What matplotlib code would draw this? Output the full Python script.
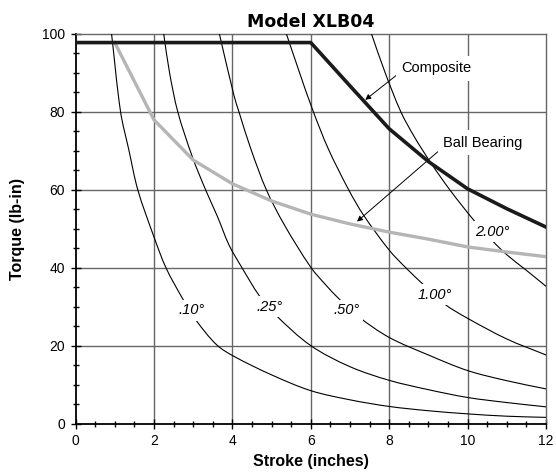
import numpy as np
import matplotlib.pyplot as plt
from matplotlib.path import Path
from matplotlib.patches import PathPatch

plt.rcParams['font.family'] = ['Liberation Sans', 'DejaVu Sans']

# composite and ball bearing torque limits
stroke = [0, 1, 2, 3, 4, 5, 6, 7, 8, 9, 10, 11, 12]
composite = [97.8, 97.8, 97.8, 97.8, 97.8, 97.8, 97.8, 86.7, 75.7, 67.3, 60.3, 55.2, 50.5]
bb_stroke = [1, 2, 3, 4, 5, 6, 7, 8, 9, 10, 11, 12]
ball_bearing = [97.8, 78, 67.7, 61.6, 57.2, 53.8, 51.3, 49.2, 47.4, 45.4, 44.1, 42.9]

# deflection curves
d10_x = [0.92, 1.15, 1.36, 1.59, 2.0, 2.31, 2.74, 3.06, 3.6, 4.05, 5.0, 6.0, 7.0, 8.0, 9.0, 10.0, 11.0, 12.0]
d10_y = [100, 80, 70.3, 60, 48, 40, 32, 26.8, 20.3, 17.3, 12.6, 8.55, 6.2, 4.5, 3.4, 2.6, 2.0, 1.7]
d25_x = [2.25, 2.4, 2.61, 2.98, 3.32, 3.62, 3.92, 4.25, 4.68, 5.1, 6.0, 7.0, 8.0, 9.0, 10.0, 11.0, 12.0]
d25_y = [100, 90, 80, 68.5, 60, 53.2, 45.8, 40, 33, 28, 20.1, 14.7, 11.2, 8.8, 6.8, 5.5, 4.4]
d50_x = [3.67, 4.04, 4.17, 4.48, 4.87, 5.33, 6.0, 6.37, 6.71, 7.22, 8.0, 9.0, 10.0, 11.0, 12.0]
d50_y = [100, 84.3, 80, 70.3, 60, 51, 40.2, 35.8, 32.2, 27.5, 22.2, 17.7, 13.7, 11.1, 9.0]
d100_x = [5.38, 5.7, 6.05, 6.45, 6.97, 7.35, 8.0, 8.41, 8.92, 9.42, 10.0, 11.0, 12.0]
d100_y = [100, 90.5, 80.5, 70.5, 60, 53.5, 44.6, 40.2, 35.3, 30.7, 27.1, 21.8, 17.7]
d200_x = [7.55, 7.9, 8.3, 8.65, 9.06, 9.55, 10.18, 10.65, 11.0, 11.5, 12.0]
d200_y = [100, 90, 80, 73.5, 67, 60, 52, 46.8, 43.4, 39.4, 35.3]

curves = [(d10_x, d10_y), (d25_x, d25_y), (d50_x, d50_y), (d100_x, d100_y), (d200_x, d200_y)]
curve_labels = ['.10°', '.25°', '.50°', '1.00°', '2.00°']
label_pos = [(2.95, 29.2), (4.94, 30.1), (6.92, 29.2), (9.17, 33.1), (10.62, 49.3)]


# smoothed line through the read points (like a spreadsheet "smooth line")
def smooth_path(xs, ys, sx=39.25, sy=3.9):
    P = np.column_stack([np.array(xs) * sx, np.array(ys) * sy])
    n = len(P)
    T = np.zeros_like(P)
    for i in range(n):
        d = P[min(i + 1, n - 1)] - P[max(i - 1, 0)]
        T[i] = d / np.hypot(d[0], d[1])
    verts = [P[0]]
    codes = [Path.MOVETO]
    for i in range(n - 1):
        L = np.hypot(*(P[i + 1] - P[i]))
        verts += [P[i] + T[i] * L / 3, P[i + 1] - T[i + 1] * L / 3, P[i + 1]]
        codes += [Path.CURVE4] * 3
    verts = np.array(verts) / [sx, sy]
    return Path(verts, codes)


fig = plt.figure(figsize=(5.56, 4.72), dpi=100)
ax = fig.add_axes([0.1358, 0.1017, 0.8462, 0.8263])

gcol = '#666666'
for xv in [2, 4, 6, 8, 10]:
    ax.axvline(xv, color=gcol, lw=1.0, zorder=1)
for yv in [20, 40, 60, 80]:
    ax.axhline(yv, color=gcol, lw=1.0, zorder=1)

for (cx, cy) in curves:
    ax.add_patch(PathPatch(smooth_path(cx, cy), facecolor='none', edgecolor='black',
                           lw=0.8, zorder=3))

ax.plot(bb_stroke, ball_bearing, color='#b5b5b5', lw=2.4, zorder=4)
ax.plot(stroke, composite, color='#1a1a1a', lw=2.6, zorder=5)

for lab, (lx, ly) in zip(curve_labels, label_pos):
    ax.text(lx, ly, lab, style='italic', fontsize=10.5, ha='center', va='center', zorder=6,
            bbox=dict(facecolor='white', edgecolor='none', pad=2.5))

ax.annotate('Composite', xy=(7.39, 83.1), xytext=(8.32, 91.2), fontsize=10.5,
            ha='left', va='center', zorder=2,
            bbox=dict(facecolor='white', edgecolor='none', pad=4),
            arrowprops=dict(arrowstyle='-|>', color='black', lw=0.7, mutation_scale=8,
                            shrinkA=0, shrinkB=0, relpos=(0, 0.3)))
ax.annotate('Ball Bearing', xy=(7.18, 51.9), xytext=(9.38, 72.1), fontsize=10.5,
            ha='left', va='center', zorder=2,
            bbox=dict(facecolor='white', edgecolor='none', pad=4),
            arrowprops=dict(arrowstyle='-|>', color='black', lw=0.7, mutation_scale=8,
                            shrinkA=0, shrinkB=0, relpos=(0, 0.2)))

ax.set_xlim(0, 12)
ax.set_ylim(0, 100)
ax.set_xticks(np.arange(0, 13, 2))
ax.set_xticks(np.arange(0, 12.1, 0.5), minor=True)
ax.set_yticks(np.arange(0, 101, 20))
ax.set_yticks(np.arange(0, 101, 5), minor=True)
ax.tick_params(which='both', direction='inout', length=5, width=1.0, color='black',
               labelsize=10, pad=4)
ax.tick_params(which='major', length=7)

for s in ['left', 'bottom']:
    ax.spines[s].set_color('black')
    ax.spines[s].set_linewidth(1.3)
for s in ['top', 'right']:
    ax.spines[s].set_color(gcol)
    ax.spines[s].set_linewidth(1.0)

ax.set_title('Model XLB04', fontsize=12.5, fontweight='heavy', family='DejaVu Sans', pad=5)
ax.set_xlabel('Stroke (inches)', fontsize=11.5, fontweight='bold', labelpad=4)
ax.set_ylabel('Torque (lb-in)', fontsize=11.5, fontweight='bold', labelpad=12)

fig.savefig('out.png', dpi=100)
